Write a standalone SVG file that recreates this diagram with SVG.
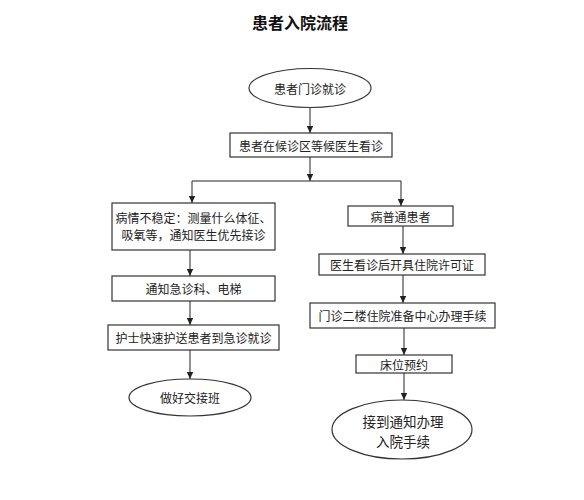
<svg xmlns="http://www.w3.org/2000/svg" width="584" height="500" viewBox="0 0 584 500">
<defs>
<marker id="ah" markerWidth="8" markerHeight="8" refX="7" refY="4" orient="auto" markerUnits="userSpaceOnUse">
<path d="M0,0.8 L7,4 L0,7.2 Z" fill="#222"/>
</marker>
<style>
.box{fill:#fff;stroke:#333;stroke-width:1.2}
.t{font-family:"Noto Sans CJK SC","Noto Sans CJK TC",sans-serif;font-size:12px;fill:#222;text-anchor:middle;dominant-baseline:central}
.big{font-size:13.5px}
.title{font-family:"Noto Sans CJK SC",sans-serif;font-size:16px;font-weight:bold;fill:#111;text-anchor:middle;dominant-baseline:central}
.ln{fill:none;stroke:#222;stroke-width:1}
</style>
</defs>
<rect width="584" height="500" fill="#fff"/>
<text class="title" x="300" y="22">患者入院流程</text>
<g id="connectors">
<line class="ln" x1="310" y1="107.5" x2="310" y2="133" marker-end="url(#ah)"/>
<line class="ln" x1="310" y1="157" x2="310" y2="181" marker-end="url(#ah)"/>
<polyline class="ln" points="192,181 401,181"/>
<line class="ln" x1="192" y1="181" x2="192" y2="203" marker-end="url(#ah)"/>
<line class="ln" x1="401" y1="181" x2="401" y2="206" marker-end="url(#ah)"/>
<line class="ln" x1="190" y1="250" x2="190" y2="276" marker-end="url(#ah)"/>
<line class="ln" x1="190" y1="301" x2="190" y2="325" marker-end="url(#ah)"/>
<line class="ln" x1="190" y1="350" x2="190" y2="379" marker-end="url(#ah)"/>
<line class="ln" x1="403" y1="226" x2="403" y2="254" marker-end="url(#ah)"/>
<line class="ln" x1="403" y1="275" x2="403" y2="303" marker-end="url(#ah)"/>
<line class="ln" x1="404" y1="328" x2="404" y2="355" marker-end="url(#ah)"/>
<line class="ln" x1="404" y1="373" x2="404" y2="400" marker-end="url(#ah)"/>
</g>
<g id="start">
<ellipse class="box" cx="310" cy="88" rx="61" ry="19.5"/>
<text class="t" x="310" y="88">患者门诊就诊</text>
</g>
<g id="wait">
<rect class="box" x="230" y="133" width="162" height="24"/>
<text class="t" x="311" y="145">患者在候诊区等候医生看诊</text>
</g>
<g id="unstable">
<rect class="box" x="112" y="203" width="163" height="47"/>
<text class="t" x="193.5" y="217">病情不稳定：测量什么体征、</text>
<text class="t" x="193.5" y="234">吸氧等，通知医生优先接诊</text>
</g>
<g id="notify">
<rect class="box" x="112" y="276" width="163" height="25"/>
<text class="t" x="193.5" y="288.5">通知急诊科、电梯</text>
</g>
<g id="escort">
<rect class="box" x="108" y="325" width="171" height="25"/>
<text class="t" x="193.5" y="337.5">护士快速护送患者到急诊就诊</text>
</g>
<g id="handover">
<ellipse class="box" cx="190" cy="397.5" rx="61" ry="18.5"/>
<text class="t" x="190" y="397.5">做好交接班</text>
</g>
<g id="normal">
<rect class="box" x="348" y="206" width="105" height="20"/>
<text class="t" x="400.5" y="216">病普通患者</text>
</g>
<g id="permit">
<rect class="box" x="319" y="254" width="166" height="21"/>
<text class="t" x="402" y="264.5">医生看诊后开具住院许可证</text>
</g>
<g id="center">
<rect class="box" x="310" y="303" width="185" height="25"/>
<text class="t" x="402.5" y="315.5">门诊二楼住院准备中心办理手续</text>
</g>
<g id="bed">
<rect class="box" x="356" y="355" width="96" height="18"/>
<text class="t" x="404" y="364">床位预约</text>
</g>
<g id="admit">
<ellipse class="box" cx="402" cy="429.5" rx="70" ry="29.5"/>
<text class="t big" x="403" y="421">接到通知办理</text>
<text class="t big" x="403" y="441">入院手续</text>
</g>
</svg>
